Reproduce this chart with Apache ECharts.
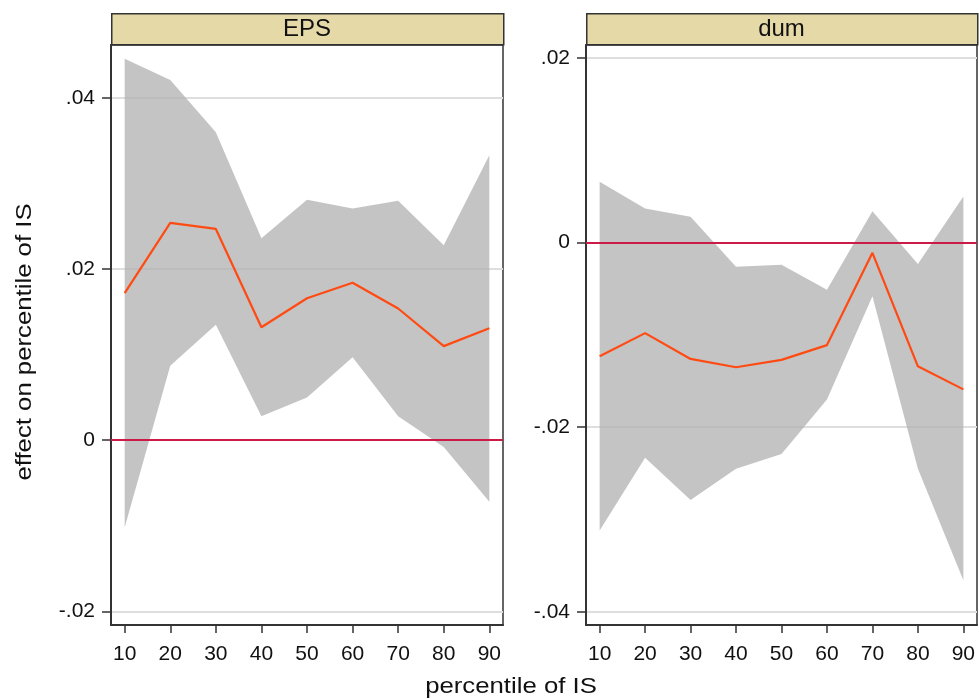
<!DOCTYPE html>
<html>
<head>
<meta charset="utf-8">
<script src="https://cdn.jsdelivr.net/npm/echarts@6/dist/echarts.min.js"></script>
<style>
  html, body { margin: 0; padding: 0; background: #fff; }
  #chart { width: 979px; height: 699px; }
</style>
</head>
<body>
<div id="chart"></div>
<script>
// Percentiles of IS on the horizontal axis
const percentiles = [10, 20, 30, 40, 50, 60, 70, 80, 90];

// Panel "EPS": point estimate with lower/upper confidence bounds
const epsEffect = [0.0172, 0.0254, 0.0247, 0.0132, 0.0166, 0.0184, 0.0154, 0.0110, 0.0131];
const epsLower  = [-0.0102, 0.0087, 0.0135, 0.0028, 0.0050, 0.0097, 0.0028, -0.0008, -0.0072];
const epsUpper  = [0.0446, 0.0421, 0.0360, 0.0236, 0.0281, 0.0271, 0.0280, 0.0228, 0.0333];

// Panel "dum"
const dumEffect = [-0.0123, -0.0098, -0.0126, -0.0135, -0.0127, -0.0111, -0.0011, -0.0134, -0.0159];
const dumLower  = [-0.0312, -0.0233, -0.0279, -0.0245, -0.0229, -0.0170, -0.0058, -0.0245, -0.0366];
const dumUpper  = [0.0066, 0.0037, 0.0028, -0.0026, -0.0024, -0.0051, 0.0034, -0.0023, 0.0050];

// Tick values and their printed labels
const xTicks = [10, 20, 30, 40, 50, 60, 70, 80, 90];
const epsYTicks = [-0.02, 0, 0.02, 0.04];
const epsYLabels = ['-.02', '0', '.02', '.04'];
const dumYTicks = [-0.04, -0.02, 0, 0.02];
const dumYLabels = ['-.04', '-.02', '0', '.02'];

const panelTitles = ['EPS', 'dum'];

const FONT = '"Liberation Sans", Arial, Helvetica, sans-serif';
const frameColor = '#333333';
const gridColor = '#dedede';

const panels = [
  { left: 111, width: 392, yMin: -0.0216, yMax: 0.0462, ticks: epsYTicks, labels: epsYLabels,
    effect: epsEffect, lower: epsLower, upper: epsUpper },
  { left: 586, width: 391, yMin: -0.04144, yMax: 0.02143, ticks: dumYTicks, labels: dumYLabels,
    effect: dumEffect, lower: dumLower, upper: dumUpper }
];

const TOP = 45, HEIGHT = 580;

const grids = [], xAxes = [], yAxes = [], series = [], graphics = [];

panels.forEach((p, k) => {
  grids.push({
    left: p.left, top: TOP, width: p.width, height: HEIGHT,
    show: true, borderColor: frameColor, borderWidth: 1.5, backgroundColor: '#fff'
  });
  xAxes.push({
    type: 'value', gridIndex: k, min: 7, max: 93,
    axisLine: { show: true, onZero: false, lineStyle: { color: frameColor, width: 2 } },
    axisTick: { show: true, length: 8, customValues: xTicks, lineStyle: { color: frameColor, width: 1.5 } },
    axisLabel: { show: true, customValues: xTicks, margin: 19, color: '#111',
                 fontFamily: FONT, fontSize: 21 },
    splitLine: { show: false }
  });
  yAxes.push({
    type: 'value', gridIndex: k, min: p.yMin, max: p.yMax,
    axisLine: { show: true, onZero: false, lineStyle: { color: frameColor, width: 2 } },
    axisTick: { show: true, length: 9, customValues: p.ticks, lineStyle: { color: frameColor, width: 1.5 } },
    axisLabel: {
      show: true, customValues: p.ticks, margin: 16, color: '#111',
      fontFamily: FONT, fontSize: 21,
      formatter: v => {
        const i = p.ticks.findIndex(t => Math.abs(t - v) < 1e-9);
        return i >= 0 ? p.labels[i] : '';
      }
    },
    splitLine: { show: true, lineStyle: { color: gridColor, width: 2 } }
  });

  // zero reference line
  series.push({
    type: 'line', xAxisIndex: k, yAxisIndex: k, data: [], z: 1,
    markLine: {
      silent: true, symbol: 'none', label: { show: false },
      lineStyle: { color: '#cc1a48', width: 2, type: 'solid' },
      data: [{ yAxis: 0 }]
    }
  });

  // confidence band as a single polygon through the axis scales
  series.push({
    type: 'custom', xAxisIndex: k, yAxisIndex: k, z: 2,
    data: [[percentiles[0], p.lower[0], p.upper[0]]],
    renderItem: (params, api) => {
      const pts = [];
      for (let i = 0; i < percentiles.length; i++) pts.push(api.coord([percentiles[i], p.upper[i]]));
      for (let i = percentiles.length - 1; i >= 0; i--) pts.push(api.coord([percentiles[i], p.lower[i]]));
      return {
        type: 'polygon',
        shape: { points: pts },
        style: { fill: 'rgba(176,176,176,0.75)', stroke: null }
      };
    }
  });

  // point estimate
  series.push({
    type: 'line', xAxisIndex: k, yAxisIndex: k, z: 3,
    data: percentiles.map((x, i) => [x, p.effect[i]]),
    symbol: 'none', lineStyle: { color: '#ff4a12', width: 2.2 }
  });

  // panel header strip
  graphics.push({
    type: 'rect', left: p.left, top: 13,
    shape: { x: 0, y: 0, width: p.width, height: 31 },
    style: { fill: '#e4d9a7', stroke: '#333', lineWidth: 1.5 }
  });
  graphics.push({
    type: 'text', x: p.left + p.width / 2, y: 29,
    style: { text: panelTitles[k], fill: '#111', font: '24px ' + FONT,
             textAlign: 'center', textVerticalAlign: 'middle' }
  });
});

// axis titles (slightly widened lettering)
graphics.push({
  type: 'text', x: 25, y: 342, rotation: Math.PI / 2, scaleX: 1.17,
  style: { text: 'effect on percentile of IS', fill: '#111',
           font: '22px ' + FONT, textAlign: 'center', textVerticalAlign: 'middle' }
});
graphics.push({
  type: 'text', x: 511, y: 687, scaleX: 1.17,
  style: { text: 'percentile of IS', fill: '#111',
           font: '22px ' + FONT, textAlign: 'center', textVerticalAlign: 'middle' }
});

const chart = echarts.init(document.getElementById('chart'), null, { renderer: 'canvas' });
chart.setOption({
  animation: false,
  backgroundColor: '#ffffff',
  grid: grids,
  xAxis: xAxes,
  yAxis: yAxes,
  series: series,
  graphic: graphics
});
</script>
</body>
</html>
